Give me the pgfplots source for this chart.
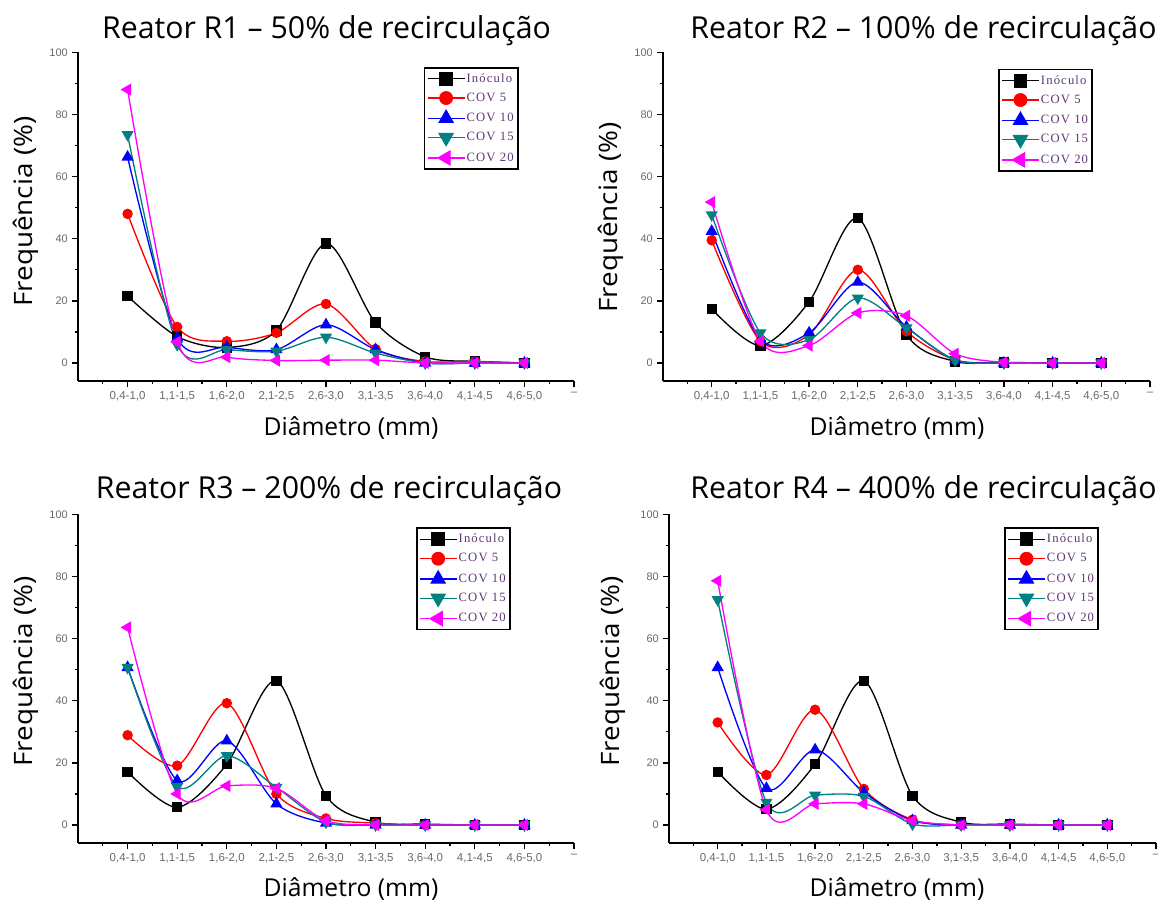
\documentclass[border=0pt]{standalone}
\usepackage{fontspec}
\setmainfont{Open Sans}
\newfontfamily\tickfont{Liberation Sans}
\newfontfamily\legfont[LetterSpace=9]{Liberation Serif}
\usepackage{graphicx}
\usepackage{pgfplots}
\usepackage{pgfplotstable}
\pgfplotsset{compat=1.18}

\definecolor{cteal}{RGB}{0,128,128}
\definecolor{cmag}{RGB}{255,0,255}
\definecolor{tickgray}{RGB}{105,105,105}
\definecolor{legtext}{RGB}{95,55,115}

\pgfplotstableread{
x ino c5 c10 c15 c20
1 21.5 48 66.3 73.5 88
2 8.5 11.6 8 5.9 6.8
3 5 7 5.1 4.3 1.9
4 10.5 9.7 4.3 3.8 0.8
5 38.5 19 12.3 8.3 0.9
6 13 4.5 4.3 3.2 0.9
7 2 0.5 0 0 0
8 0.5 0.5 0 0 0
9 0 0 0 0 0
}\tabA
\pgfplotstableread{
x ino c5 c10 c15 c20
1 17.4 39.5 42.4 47.7 51.8
2 5.6 7 7.5 9.7 7
3 19.7 9.1 9.7 7.5 5.6
4 46.6 30 26 20.9 16.1
5 9.1 10.2 11.6 11.3 15.2
6 0.5 1 1 0.9 3
7 0.2 0 0 0 0.2
8 0 0 0 0 0
9 0 0 0 0 0
}\tabB
\pgfplotstableread{
x ino c5 c10 c15 c20
1 17.1 28.9 50.7 50.7 63.6
2 5.7 19.1 14.3 12.4 10
3 19.6 39.2 27.1 22.3 12.6
4 46.4 10 6.8 12.1 11.8
5 9.4 2.1 0.6 0.9 1.4
6 0.9 0.6 0 0 0
7 0.3 0 0 0 0
8 0 0 0 0 0
9 0 0 0 0 0
}\tabC
\pgfplotstableread{
x ino c5 c10 c15 c20
1 17.1 33 50.7 72.5 78.6
2 5.1 16.1 11.8 7.3 4.9
3 19.6 37.1 24.2 9.6 6.8
4 46.4 11.6 10.5 9.2 6.8
5 9.4 1.7 1.4 0.3 1.4
6 0.9 0 0 0 0
7 0.3 0 0 0 0
8 0 0 0 0 0
9 0 0 0 0 0
}\tabD

\pgfplotsset{
  panel/.style={
    scale only axis,
    height=246.5pt,
    axis x line*=bottom,
    axis y line*=left,
    axis line style={black, line width=1.1pt},
    xmin=0, xmax=10, ymin=-5.8, ymax=100,
    xtick={1,...,10},
    xticklabels={{0,4-1,0},{1,1-1,5},{1,6-2,0},{2,1-2,5},{2,6-3,0},{3,1-3,5},{3,6-4,0},{4,1-4,5},{4,6-5,0},{–}},
    minor xtick={0.5,1.5,...,9.5},
    ytick={0,20,...,100},
    minor ytick={10,30,...,90},
    tick align=outside,
    major tick length=4.2pt,
    minor tick length=2.5pt,
    every tick/.style={black, line width=1pt},
    tick label style={text=tickgray},
    xticklabel style={font=\tickfont\fontsize{8.6pt}{9pt}\selectfont, yshift=-0.5pt},
    yticklabel style={font=\tickfont\fontsize{8.2pt}{9pt}\selectfont},
    /pgf/number format/assume math mode=true,
    legend cell align=left,
    legend style={
      anchor=north west, draw=black, line width=1.3pt,
      font=\legfont\fontsize{9.5pt}{11pt}\selectfont, text=legtext,
      row sep=4.2pt, inner xsep=2pt, inner ysep=3pt,
      nodes={inner sep=1.2pt}
    },
    legend image code/.code={
      \draw[mark repeat=2,mark phase=2,##1,every mark/.append style={scale=1.38}]
        plot coordinates {(0cm,0cm) (0.48cm,0cm) (0.96cm,0cm)};
    },
    every axis plot/.append style={line width=1pt, smooth},
  },
  sino/.style={black, mark=square*, mark size=3.4pt, mark options={solid}},
  sc5/.style={red, mark=*, mark size=3.4pt},
  sc10/.style={blue, mark=triangle*, mark size=4.3pt},
  sc15/.style={cteal, mark=triangle*, mark size=4.3pt, mark options={rotate=180}},
  sc20/.style={cmag, mark=triangle*, mark size=4.3pt, mark options={rotate=90}},
}

\newcommand\fiveplots[1]{%
  \addplot[sino] table[x=x,y=ino] {#1};
  \addplot[sc5] table[x=x,y=c5] {#1};
  \addplot[sc10] table[x=x,y=c10] {#1};
  \addplot[sc15] table[x=x,y=c15] {#1};
  \addplot[sc20] table[x=x,y=c20] {#1};
  \legend{Inóculo,COV 5,COV 10,COV 15,COV 20}
}

\newcommand\titlefont{\fontsize{22.7pt}{27pt}\selectfont}
\newcommand\xlab{\fontsize{18.5pt}{22pt}\selectfont Diâmetro (mm)}
\newcommand\ylab{\scalebox{1.1}[1]{\fontsize{19pt}{22pt}\selectfont Frequência (\%)}}

\begin{document}
\begin{tikzpicture}
\path[use as bounding box] (0,0) rectangle (868.5pt,680.25pt);

% Panel 1
\begin{axis}[panel, width=372pt, at={(58.5pt,394.5pt)}, anchor=south west,
  legend style={at={(axis description cs:0.697,0.956)}}]
  \fiveplots{\tabA}
\end{axis}
% Panel 2
\begin{axis}[panel, width=365.25pt, at={(497.25pt,394.5pt)}, anchor=south west,
  legend style={at={(axis description cs:0.688,0.95)}}]
  \fiveplots{\tabB}
\end{axis}
% Panel 3
\begin{axis}[panel, width=372pt, at={(58.5pt,48pt)}, anchor=south west,
  legend style={at={(axis description cs:0.681,0.96)}}]
  \fiveplots{\tabC}
\end{axis}
% Panel 4
\begin{axis}[panel, width=365.25pt, at={(501.75pt,48pt)}, anchor=south west,
  legend style={at={(axis description cs:0.688,0.96)}}]
  \fiveplots{\tabD}
\end{axis}

% Titles
\node[anchor=base] at (244.9pt,651pt) {\titlefont Reator R1 – 50\% de recirculação};
\node[anchor=base] at (692.6pt,651pt) {\titlefont Reator R2 – 100\% de recirculação};
\node[anchor=base] at (246.75pt,306pt) {\titlefont Reator R3 – 200\% de recirculação};
\node[anchor=base] at (692.6pt,306pt) {\titlefont Reator R4 – 400\% de recirculação};

% Y labels
\node[rotate=90] at (19.5pt,521.5pt) {\ylab};
\node[rotate=90] at (458.25pt,517pt) {\ylab};
\node[rotate=90] at (19.5pt,176.5pt) {\ylab};
\node[rotate=90] at (459.75pt,176.5pt) {\ylab};

% X labels
\node at (263.25pt,359.25pt) {\xlab};
\node at (672.75pt,359.25pt) {\xlab};
\node at (263.25pt,13.5pt) {\xlab};
\node at (672.75pt,13.5pt) {\xlab};
\end{tikzpicture}
\end{document}
